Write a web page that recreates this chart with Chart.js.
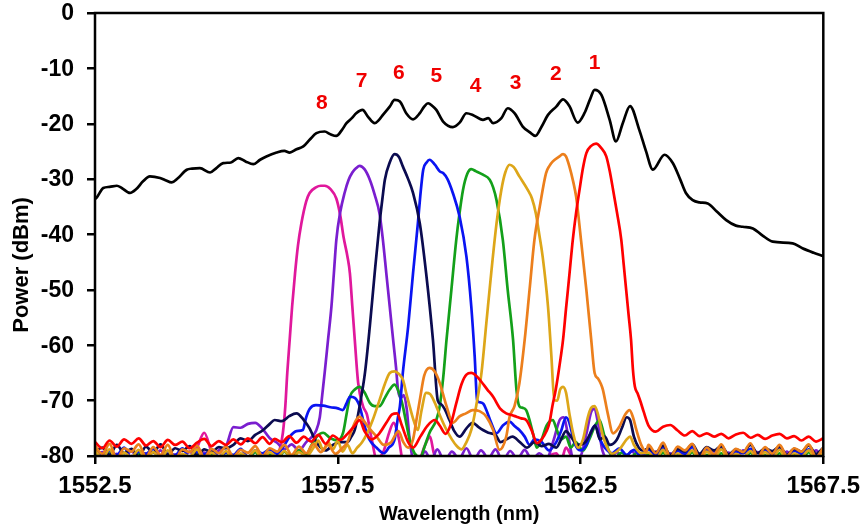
<!DOCTYPE html>
<html>
<head>
<meta charset="utf-8">
<script src="https://cdn.jsdelivr.net/npm/chart.js@4/dist/chart.umd.min.js"></script>
<style>
  html, body { margin: 0; padding: 0; background: #ffffff; }
  #wrap { width: 868px; height: 532px; }
</style>
</head>
<body>
<div id="wrap"><canvas id="c" width="868" height="532"></canvas></div>
<script>
// ---------- axis ----------
const xTicks = [1552.5, 1557.5, 1562.5, 1567.5];
const yTicks = [0, -10, -20, -30, -40, -50, -60, -70, -80];
const xTitle = 'Wavelength (nm)';
const yTitle = 'Power (dBm)';

// ---------- broadband spectrum (black) ----------
const blackX = [1552.5,1552.53,1552.67,1552.8,1552.95,1553.05,1553.22,1553.35,1553.49,1553.63,1553.84,1553.95,1554.08,1554.2,1554.39,1554.5,1554.66,1554.87,1555.0,1555.14,1555.3,1555.45,1555.6,1555.76,1555.9,1556.03,1556.24,1556.4,1556.51,1556.65,1556.79,1556.93,1557.06,1557.23,1557.35,1557.47,1557.58,1557.68,1557.8,1557.88,1558.01,1558.12,1558.26,1558.35,1558.43,1558.57,1558.67,1558.78,1558.91,1559.05,1559.19,1559.28,1559.36,1559.45,1559.53,1559.67,1559.87,1560.01,1560.15,1560.28,1560.49,1560.6,1560.7,1560.87,1561.0,1561.14,1561.31,1561.45,1561.57,1561.7,1561.83,1562.0,1562.14,1562.27,1562.44,1562.58,1562.7,1562.79,1562.93,1563.1,1563.23,1563.37,1563.52,1563.71,1563.85,1563.99,1564.23,1564.4,1564.55,1564.67,1564.81,1564.95,1565.12,1565.3,1565.5,1565.7,1565.84,1566.05,1566.25,1566.46,1566.87,1567.07,1567.3,1567.5];
const blackY = [-33.6,-33.4,-31.6,-31.4,-31.2,-31.6,-32.5,-31.8,-30.4,-29.5,-29.8,-30.2,-30.6,-29.9,-28.3,-28.1,-28.0,-28.8,-28.0,-27.1,-27.0,-26.2,-26.8,-27.3,-26.5,-25.9,-25.2,-24.9,-25.2,-24.6,-24.1,-22.8,-21.7,-21.4,-21.9,-22.2,-21.2,-19.9,-18.9,-18.1,-17.5,-18.7,-19.9,-19.3,-18.4,-16.9,-15.7,-16.0,-18.1,-19.2,-18.1,-16.9,-16.3,-16.8,-17.5,-19.6,-20.6,-19.8,-18.1,-18.4,-19.3,-19.0,-19.9,-19.0,-17.2,-18.1,-20.5,-21.5,-22.2,-20.5,-18.4,-16.9,-15.6,-16.8,-19.8,-18.1,-15.5,-13.9,-14.8,-19.3,-23.2,-19.9,-16.8,-21.1,-25.0,-28.3,-25.6,-27.1,-30.0,-32.5,-33.8,-34.2,-34.4,-35.8,-37.4,-38.4,-38.6,-38.9,-40.2,-41.3,-41.6,-42.5,-43.3,-43.9];

// ---------- shared wavelength grids for the noise floor ----------
const gridL = [1552.5,1552.65,1552.8,1552.95,1553.1,1553.25,1553.4,1553.55,1553.7,1553.85,1554.0,1554.15,1554.3,1554.45,1554.6,1554.75,1554.9,1555.05,1555.2,1555.35,1555.5,1555.65,1555.8,1555.95,1556.1];
const gridR = [1563.9,1564.05,1564.2,1564.35,1564.5,1564.65,1564.8,1564.95,1565.1,1565.25,1565.4,1565.55,1565.7,1565.85,1566.0,1566.15,1566.3,1566.45,1566.6,1566.75,1566.9,1567.05,1567.2,1567.35,1567.5];

// ---------- channel 1 (red) ----------
const ch1FloorL = [-77.5,-78.6,-77.2,-78.3,-77.0,-77.8,-76.8,-78.1,-77.3,-78.4,-77.1,-78.0,-77.4,-78.6,-77.6,-76.9,-78.2,-77.3,-78.0,-77.0,-77.9,-76.8,-77.7,-76.6,-77.8];
const ch1X = [1556.2,1556.35,1556.5,1556.65,1556.8,1556.95,1557.1,1557.25,1557.4,1557.55,1557.7,1557.85,1557.95,1558.05,1558.2,1558.35,1558.5,1558.62,1558.72,1558.82,1558.95,1559.05,1559.2,1559.35,1559.5,1559.6,1559.72,1559.82,1559.94,1560.05,1560.15,1560.25,1560.35,1560.45,1560.58,1560.7,1560.85,1560.97,1561.08,1561.18,1561.28,1561.38,1561.5,1561.6,1561.7,1561.8,1561.86,1561.92,1561.99,1562.07,1562.14,1562.2,1562.24,1562.29,1562.34,1562.41,1562.48,1562.55,1562.62,1562.72,1562.82,1562.92,1563.03,1563.1,1563.17,1563.25,1563.34,1563.39,1563.44,1563.49,1563.54,1563.58,1563.62,1563.68,1563.74,1563.8];
const ch1Y = [-76.9,-77.5,-76.4,-77.6,-76.5,-77.4,-76.2,-77.8,-76.3,-77.1,-76.0,-74.5,-73.5,-75.5,-77.0,-76.0,-74.0,-72.5,-72.3,-74.5,-77.5,-78.5,-76.5,-74.5,-73.5,-74.5,-76.0,-74.5,-70.5,-67.0,-65.3,-65.0,-65.5,-66.5,-68.0,-69.3,-71.5,-72.3,-72.6,-72.9,-73.2,-73.5,-75.5,-77.7,-77.0,-75.5,-74.0,-71.0,-68.0,-63.5,-59.0,-53.5,-50.0,-45.5,-41.0,-36.0,-31.9,-28.0,-25.3,-24.0,-23.6,-24.3,-25.9,-28.5,-31.9,-36.0,-41.0,-45.5,-50.0,-54.5,-59.0,-64.5,-67.5,-68.8,-70.3,-72.0];
const ch1FloorR = [-74.5,-75.6,-74.7,-74.4,-75.4,-76.3,-75.5,-76.4,-75.9,-76.5,-76.0,-76.8,-76.1,-75.8,-76.7,-76.2,-76.9,-76.3,-76.0,-76.8,-76.4,-77.2,-76.5,-77.4,-76.8];

// ---------- channel 2 (orange) ----------
const ch2FloorL = [-78.2,-79.6,-77.8,-80.5,-78.6,-79.2,-77.9,-80.2,-78.4,-79.8,-78.0,-80.6,-78.8,-79.3,-78.1,-80.3,-78.7,-79.5,-78.3,-80.1,-78.9,-79.4,-78.2,-80.0,-78.6];
const ch2X = [1556.25,1556.4,1556.55,1556.7,1556.85,1557.0,1557.15,1557.3,1557.45,1557.6,1557.7,1557.78,1557.88,1557.95,1558.02,1558.15,1558.3,1558.45,1558.6,1558.75,1558.85,1558.95,1559.05,1559.12,1559.19,1559.28,1559.39,1559.5,1559.6,1559.74,1559.87,1560.0,1560.14,1560.28,1560.42,1560.56,1560.7,1560.83,1560.97,1561.04,1561.14,1561.24,1561.35,1561.45,1561.55,1561.66,1561.79,1561.86,1561.93,1562.05,1562.14,1562.2,1562.27,1562.35,1562.41,1562.51,1562.62,1562.72,1562.79,1562.86,1562.92,1562.96,1563.06,1563.17,1563.3,1563.42,1563.51,1563.58,1563.65,1563.75,1563.85];
const ch2Y = [-79.2,-78.0,-79.8,-78.3,-79.5,-77.8,-79.3,-78.0,-79.6,-78.5,-77.5,-75.5,-73.5,-72.9,-73.5,-75.0,-76.5,-78.0,-77.5,-75.5,-77.5,-78.5,-77.0,-73.5,-69.9,-65.5,-64.1,-64.8,-66.8,-71.0,-74.0,-72.9,-72.3,-71.7,-71.9,-72.9,-75.3,-78.9,-76.5,-72.9,-71.0,-66.9,-59.0,-50.0,-41.0,-35.0,-28.9,-27.6,-26.8,-26.0,-25.5,-25.9,-27.7,-30.5,-33.2,-41.0,-50.0,-59.0,-65.0,-66.0,-67.0,-68.0,-72.3,-75.9,-74.7,-72.5,-71.7,-73.0,-75.3,-78.0,-79.2];
const ch2FloorR = [-78.0,-79.5,-77.6,-80.2,-78.3,-79.0,-77.8,-80.4,-78.5,-79.7,-77.9,-80.1,-78.7,-79.3,-77.7,-80.3,-78.4,-79.6,-78.0,-80.0,-78.6,-79.2,-77.9,-80.2,-78.5];

// ---------- channel 3 (gold) ----------
const ch3FloorL = [-79.0,-80.4,-78.8,-81.0,-79.4,-80.2,-78.9,-80.8,-79.3,-80.5,-79.0,-81.2,-79.6,-80.1,-78.8,-80.9,-79.4,-80.3,-79.1,-81.0,-79.5,-80.2,-79.0,-80.7,-79.3];
const ch3X = [1556.25,1556.4,1556.55,1556.7,1556.85,1557.0,1557.1,1557.2,1557.3,1557.4,1557.5,1557.6,1557.7,1557.8,1557.9,1558.0,1558.1,1558.22,1558.36,1558.47,1558.57,1558.67,1558.76,1558.84,1558.92,1558.98,1559.06,1559.15,1559.22,1559.32,1559.4,1559.5,1559.62,1559.74,1559.85,1559.95,1560.05,1560.15,1560.25,1560.35,1560.46,1560.56,1560.66,1560.77,1560.87,1560.95,1561.04,1561.12,1561.24,1561.41,1561.5,1561.58,1561.65,1561.72,1561.83,1561.9,1561.96,1562.02,1562.08,1562.14,1562.2,1562.27,1562.35,1562.45,1562.55,1562.65,1562.72,1562.79,1562.86,1562.95,1563.05,1563.15,1563.3,1563.45,1563.52,1563.6,1563.75];
const ch3Y = [-80.2,-79.1,-80.6,-79.3,-80.1,-78.5,-77.2,-79.0,-77.5,-78.8,-77.3,-79.2,-78.0,-79.5,-78.5,-77.5,-76.0,-73.5,-69.9,-67.0,-65.0,-64.7,-65.2,-66.2,-69.0,-71.0,-73.5,-75.3,-72.0,-68.6,-68.8,-70.4,-73.0,-75.3,-77.0,-78.2,-78.8,-77.5,-75.3,-71.0,-65.0,-56.0,-47.0,-38.0,-31.9,-28.8,-27.4,-27.8,-29.5,-31.9,-33.5,-36.2,-40.0,-44.0,-53.0,-62.0,-69.9,-70.0,-68.0,-67.5,-68.5,-72.3,-76.0,-78.5,-77.0,-73.0,-71.3,-71.0,-72.5,-76.0,-78.5,-79.6,-78.8,-77.0,-76.5,-78.0,-79.5];
const ch3FloorR = [-79.4,-80.6,-78.9,-81.1,-79.5,-80.3,-79.0,-80.9,-79.2,-80.5,-78.8,-81.0,-79.6,-80.2,-79.1,-80.8,-79.3,-80.4,-78.9,-81.0,-79.5,-80.1,-79.0,-80.7,-79.4];

// ---------- channel 4 (green) ----------
const ch4FloorL = [-79.8,-80.9,-79.5,-81.2,-80.0,-80.7,-79.6,-81.3,-80.1,-80.6,-79.7,-81.0,-80.2,-80.8,-79.5,-81.1,-79.9,-80.5,-79.4,-81.2,-79.8,-80.6,-79.3,-80.9,-79.7];
const ch4X = [1556.25,1556.4,1556.55,1556.7,1556.85,1556.95,1557.07,1557.2,1557.35,1557.5,1557.61,1557.68,1557.75,1557.85,1557.95,1558.05,1558.16,1558.26,1558.36,1558.47,1558.57,1558.67,1558.76,1558.84,1558.92,1558.98,1559.08,1559.2,1559.3,1559.39,1559.53,1559.6,1559.67,1559.74,1559.84,1559.94,1560.01,1560.08,1560.17,1560.25,1560.35,1560.49,1560.63,1560.7,1560.77,1560.9,1561.0,1561.11,1561.18,1561.24,1561.31,1561.38,1561.45,1561.52,1561.6,1561.7,1561.8,1561.93,1562.0,1562.1,1562.2,1562.3,1562.4,1562.55,1562.68,1562.8,1562.89,1562.98,1563.08,1563.2,1563.35,1563.5,1563.65,1563.8];
const ch4Y = [-80.5,-79.2,-80.4,-79.0,-79.8,-78.2,-76.5,-75.8,-76.8,-77.2,-75.8,-72.5,-69.3,-68.0,-67.5,-68.5,-70.4,-71.0,-71.0,-69.5,-68.0,-67.1,-68.5,-71.0,-74.5,-77.0,-79.5,-80.2,-78.0,-75.8,-73.5,-71.0,-66.0,-59.0,-50.0,-41.0,-36.0,-31.9,-29.0,-28.2,-28.6,-29.2,-30.1,-31.5,-33.8,-41.0,-50.0,-59.0,-68.0,-71.0,-71.3,-71.7,-73.5,-75.9,-78.5,-77.0,-74.5,-73.5,-75.0,-77.0,-76.5,-78.5,-77.5,-79.0,-77.0,-74.5,-73.5,-76.0,-79.0,-80.3,-79.4,-80.6,-79.5,-80.4];
const ch4FloorR = [-79.6,-80.8,-79.4,-81.0,-79.9,-80.5,-79.3,-81.2,-79.8,-80.6,-79.5,-80.9,-79.7,-81.1,-79.4,-80.7,-79.9,-80.4,-79.5,-81.0,-79.7,-80.6,-79.3,-80.8,-79.6];

// ---------- channel 5 (blue) ----------
const ch5FloorL = [-78.8,-80.2,-79.0,-79.8,-78.5,-80.5,-79.2,-79.6,-78.7,-80.3,-79.1,-79.9,-78.6,-80.4,-79.3,-79.7,-78.9,-80.1,-79.4,-79.8,-78.7,-80.2,-79.0,-79.5,-78.8];
const ch5X = [1556.25,1556.38,1556.51,1556.65,1556.78,1556.85,1556.92,1557.05,1557.2,1557.35,1557.5,1557.6,1557.68,1557.75,1557.85,1557.95,1558.05,1558.15,1558.3,1558.45,1558.55,1558.67,1558.74,1558.78,1558.84,1558.95,1559.05,1559.15,1559.2,1559.26,1559.33,1559.39,1559.5,1559.6,1559.67,1559.76,1559.87,1560.01,1560.15,1560.25,1560.32,1560.37,1560.42,1560.5,1560.56,1560.66,1560.77,1560.9,1561.04,1561.14,1561.24,1561.35,1561.45,1561.55,1561.7,1561.85,1562.0,1562.1,1562.2,1562.27,1562.37,1562.5,1562.62,1562.72,1562.8,1562.9,1563.0,1563.15,1563.3,1563.45,1563.6,1563.75];
const ch5Y = [-79.6,-78.3,-76.5,-75.5,-75.3,-73.0,-71.5,-70.8,-70.9,-71.2,-71.4,-71.7,-70.5,-69.3,-69.5,-71.0,-74.5,-77.0,-78.5,-79.5,-78.5,-77.0,-73.0,-71.0,-65.0,-56.6,-47.0,-38.0,-33.0,-28.3,-27.0,-26.5,-27.4,-28.6,-28.9,-30.0,-32.5,-36.8,-44.0,-53.0,-62.0,-69.9,-70.3,-70.6,-71.7,-74.0,-75.9,-74.5,-73.8,-74.6,-75.3,-76.5,-78.0,-77.0,-77.5,-79.0,-77.5,-75.5,-73.0,-74.0,-77.5,-79.0,-78.0,-75.5,-74.5,-77.0,-78.5,-79.5,-78.6,-79.8,-78.9,-80.1];
const ch5FloorR = [-78.8,-79.9,-78.5,-80.3,-79.1,-79.6,-78.4,-80.2,-78.9,-79.7,-78.6,-80.4,-79.2,-79.5,-78.7,-80.1,-79.0,-79.8,-78.5,-80.3,-79.1,-79.6,-78.8,-80.0,-78.9];

// ---------- channel 6 (navy) ----------
const ch6FloorL = [-79.2,-78.5,-79.8,-78.0,-79.5,-78.7,-80.1,-78.3,-79.4,-77.9,-79.7,-78.6,-79.1,-78.2,-79.9,-78.8,-79.3,-78.4,-78.6,-78.0,-76.8,-77.3,-76.2,-75.4,-74.2];
const ch6X = [1556.2,1556.35,1556.5,1556.65,1556.8,1556.92,1557.0,1557.1,1557.25,1557.4,1557.55,1557.7,1557.78,1557.85,1557.95,1558.06,1558.16,1558.26,1558.36,1558.42,1558.47,1558.57,1558.67,1558.76,1558.84,1558.95,1559.05,1559.19,1559.32,1559.46,1559.56,1559.62,1559.7,1559.8,1559.9,1560.01,1560.15,1560.28,1560.4,1560.49,1560.6,1560.75,1560.85,1560.97,1561.1,1561.25,1561.4,1561.55,1561.7,1561.85,1562.0,1562.1,1562.2,1562.3,1562.45,1562.6,1562.7,1562.8,1562.9,1563.0,1563.1,1563.25,1563.35,1563.45,1563.52,1563.6,1563.7,1563.8];
const ch6Y = [-73.5,-73.7,-72.8,-72.3,-73.5,-75.0,-76.5,-78.0,-79.0,-78.0,-77.5,-77.5,-76.5,-75.3,-71.0,-65.0,-56.6,-47.0,-38.0,-33.5,-30.1,-27.0,-25.5,-26.0,-27.7,-30.0,-32.5,-38.0,-47.0,-59.0,-70.0,-70.6,-71.5,-73.5,-75.5,-76.5,-75.0,-74.0,-74.8,-75.3,-75.8,-76.2,-77.5,-77.0,-76.5,-77.5,-78.5,-77.5,-78.2,-77.8,-78.5,-77.0,-75.5,-76.5,-78.0,-77.5,-76.0,-74.5,-77.0,-76.5,-78.0,-77.0,-75.0,-73.0,-73.5,-76.5,-78.5,-79.0];
const ch6FloorR = [-78.6,-79.4,-78.1,-79.8,-78.7,-79.2,-77.9,-79.6,-78.4,-79.0,-78.2,-79.7,-78.8,-79.3,-78.0,-79.5,-78.6,-79.1,-78.3,-79.8,-78.7,-79.2,-78.1,-79.6,-78.5];

// ---------- channel 7 (purple) ----------
const ch7FloorL = [-80.5,-79.3,-81.0,-79.6,-80.4,-79.1,-80.8,-79.5,-80.2,-79.0,-80.9,-79.7,-80.3,-79.2,-80.6,-79.4,-80.1,-79.0,-78.2,-74.8,-74.9,-74.2,-74.0,-75.1,-76.8];
const ch7X = [1556.25,1556.4,1556.55,1556.7,1556.85,1556.97,1557.05,1557.13,1557.18,1557.23,1557.3,1557.37,1557.42,1557.47,1557.55,1557.64,1557.72,1557.8,1557.88,1557.95,1558.05,1558.16,1558.26,1558.36,1558.43,1558.5,1558.57,1558.64,1558.7,1558.74,1558.8,1558.86,1558.92,1558.98,1559.05,1559.15,1559.3,1559.42,1559.55,1559.7,1559.85,1560.0,1560.15,1560.3,1560.45,1560.6,1560.75,1560.9,1561.05,1561.2,1561.35,1561.5,1561.65,1561.8,1561.95,1562.07,1562.15,1562.25,1562.35,1562.5,1562.62,1562.72,1562.78,1562.86,1562.95,1563.1,1563.25,1563.4,1563.55,1563.7,1563.8];
const ch7Y = [-77.6,-78.8,-77.9,-79.0,-77.5,-76.5,-75.5,-73.0,-69.0,-65.0,-59.0,-53.0,-47.0,-41.0,-36.0,-32.5,-30.2,-28.8,-28.0,-27.6,-28.2,-30.1,-32.8,-36.2,-41.0,-47.0,-53.0,-59.0,-64.0,-68.0,-69.5,-69.0,-71.5,-77.0,-80.5,-81.0,-79.2,-80.8,-78.8,-81.0,-79.2,-80.5,-78.6,-80.8,-79.0,-80.4,-78.8,-80.9,-79.1,-80.5,-78.9,-80.7,-79.5,-80.5,-77.0,-73.5,-73.0,-76.5,-80.5,-80.0,-76.0,-72.0,-71.5,-74.0,-79.0,-80.5,-79.3,-80.8,-79.1,-80.6,-79.4];
const ch7FloorR = [-80.7,-79.2,-81.0,-79.5,-80.4,-79.0,-80.9,-79.6,-80.2,-79.1,-80.8,-79.4,-80.5,-79.0,-80.6,-79.3,-80.9,-79.5,-80.1,-79.2,-80.7,-79.4,-80.3,-79.0,-80.6];

// ---------- channel 8 (magenta) ----------
const ch8FloorL = [-81.0,-80.2,-81.5,-80.4,-81.2,-80.0,-81.4,-80.5,-80.9,-80.1,-81.3,-80.3,-79.8,-80.6,-78.5,-75.8,-79.2,-80.8,-80.0,-81.2,-80.3,-80.9,-80.1,-81.0,-80.4];
const ch8X = [1556.2,1556.3,1556.37,1556.42,1556.46,1556.51,1556.56,1556.62,1556.68,1556.75,1556.85,1556.92,1557.05,1557.15,1557.23,1557.35,1557.47,1557.55,1557.62,1557.7,1557.75,1557.8,1557.85,1557.92,1558.02,1558.1,1558.2,1558.3,1558.45,1558.55,1558.65,1558.75,1558.85,1559.0,1559.15,1559.3,1559.4,1559.48,1559.6,1559.75,1559.9,1560.05,1560.2,1560.35,1560.5,1560.65,1560.8,1560.95,1561.1,1561.25,1561.4,1561.55,1561.7,1561.85,1562.0,1562.1,1562.2,1562.3,1562.45,1562.6,1562.75,1562.9,1563.05,1563.2,1563.35,1563.5,1563.65,1563.8];
const ch8Y = [-80.6,-79.0,-75.8,-71.0,-65.0,-59.0,-53.0,-47.0,-42.0,-38.0,-34.0,-32.5,-31.5,-31.2,-31.2,-31.8,-33.5,-36.5,-40.5,-44.0,-47.0,-53.0,-59.0,-66.8,-71.0,-72.5,-77.0,-80.5,-79.0,-76.0,-74.0,-76.5,-81.0,-80.0,-81.0,-78.0,-76.5,-79.5,-81.0,-80.2,-81.2,-80.4,-81.1,-80.2,-81.3,-80.5,-81.0,-80.1,-81.2,-80.3,-81.0,-80.4,-81.2,-80.0,-79.5,-80.8,-78.5,-79.8,-81.0,-80.2,-81.0,-80.3,-81.1,-80.2,-81.0,-80.4,-81.2,-80.5];
const ch8FloorR = [-81.0,-80.3,-81.2,-80.5,-80.9,-80.1,-81.3,-80.4,-81.0,-80.2,-81.1,-80.6,-80.8,-80.0,-81.2,-80.4,-80.9,-80.3,-81.1,-80.5,-80.8,-80.2,-81.0,-80.4,-81.1];

// ---------- channel number labels ----------
const labelText = ['1','2','3','4','5','6','7','8'];
const labelX = [1562.79,1561.99,1561.16,1560.34,1559.53,1558.76,1557.99,1557.17];
const labelY = [-9.1,-11.0,-12.7,-13.2,-11.5,-10.9,-12.4,-16.3];

// ---------- build ----------
function pts(xs, ys) { return xs.map((x, i) => ({ x: x, y: ys[i] })); }
function channel(floorL, midX, midY, floorR) {
  const first = midX[0], last = midX[midX.length - 1];
  const left = pts(gridL, floorL).filter(p => p.x < first);
  const right = pts(gridR, floorR).filter(p => p.x > last);
  return left.concat(pts(midX, midY), right);
}

const channels = [
  { d: channel(ch1FloorL, ch1X, ch1Y, ch1FloorR), c: '#FF0000', o: 1 },
  { d: channel(ch2FloorL, ch2X, ch2Y, ch2FloorR), c: '#EC7F1C', o: 2 },
  { d: channel(ch3FloorL, ch3X, ch3Y, ch3FloorR), c: '#DDA619', o: 3 },
  { d: channel(ch4FloorL, ch4X, ch4Y, ch4FloorR), c: '#13A01A', o: 6 },
  { d: channel(ch5FloorL, ch5X, ch5Y, ch5FloorR), c: '#0A14F2', o: 5 },
  { d: channel(ch6FloorL, ch6X, ch6Y, ch6FloorR), c: '#0B0B50', o: 4 },
  { d: channel(ch7FloorL, ch7X, ch7Y, ch7FloorR), c: '#7A1ECF', o: 7 },
  { d: channel(ch8FloorL, ch8X, ch8Y, ch8FloorR), c: '#E0189C', o: 8 }
];

const datasets = [{
  label: 'spectrum',
  data: pts(blackX, blackY),
  borderColor: '#000000',
  borderWidth: 2.7,
  order: 0
}].concat(channels.map((ch, i) => ({
  label: 'ch' + (i + 1),
  data: ch.d,
  borderColor: ch.c,
  borderWidth: 2.7,
  order: ch.o
})));

const FONT = '"Liberation Sans", Arial, sans-serif';

const frame = {
  id: 'frame',
  afterDatasetsDraw(chart) {
    const a = chart.chartArea, ctx = chart.ctx;
    const xs = chart.scales.x, ys = chart.scales.y;
    ctx.save();
    ctx.strokeStyle = '#000';
    ctx.lineWidth = 2.5;
    ctx.strokeRect(a.left, a.top, a.right - a.left, a.bottom - a.top);
    // channel numbers
    ctx.fillStyle = '#F00000';
    ctx.font = 'bold 21px ' + FONT;
    ctx.textAlign = 'center';
    ctx.textBaseline = 'middle';
    labelText.forEach((t, i) => {
      ctx.fillText(t, xs.getPixelForValue(labelX[i]), ys.getPixelForValue(labelY[i]));
    });
    // y tick labels
    ctx.fillStyle = '#000';
    ctx.font = 'bold 23px ' + FONT;
    ctx.textAlign = 'right';
    yTicks.forEach(v => {
      ctx.fillText(String(v), a.left - 21, ys.getPixelForValue(v) + 1);
    });
    // y axis title (rotated)
    ctx.font = 'bold 22px ' + FONT;
    ctx.textAlign = 'center';
    ctx.translate(22, ys.getPixelForValue(-45.5));
    ctx.rotate(-Math.PI / 2);
    ctx.fillText(yTitle, 0, 0);
    ctx.restore();
  }
};

const tickFont = { family: FONT, size: 24, weight: 'bold' };
const titleFont = { family: FONT, size: 20, weight: 'bold' };

new Chart(document.getElementById('c'), {
  type: 'line',
  data: { datasets: datasets },
  options: {
    responsive: false,
    animation: false,
    layout: { padding: { top: 13, right: 44, left: 0, bottom: 0 } },
    elements: {
      point: { radius: 0 },
      line: { tension: 0, cubicInterpolationMode: 'monotone', borderJoinStyle: 'round', borderCapStyle: 'round' }
    },
    plugins: { legend: { display: false }, tooltip: { enabled: false } },
    scales: {
      x: {
        type: 'linear',
        min: 1552.5, max: 1567.5,
        afterBuildTicks(s) { s.ticks = xTicks.map(v => ({ value: v })); },
        afterFit(s) { s.height = 76; },
        grid: { display: true, drawOnChartArea: false, drawTicks: true, tickLength: 8, color: '#000', lineWidth: 2.5 },
        border: { display: false },
        ticks: { color: '#000', font: tickFont, padding: 8, maxRotation: 0, callback: v => v.toFixed(1) },
        title: { display: true, text: xTitle, color: '#000', font: titleFont, padding: { top: 0, bottom: 6 } }
      },
      y: {
        type: 'linear',
        min: -80, max: 0,
        afterBuildTicks(s) { s.ticks = yTicks.map(v => ({ value: v })); },
        afterFit(s) { s.width = 95; },
        grid: { display: true, drawOnChartArea: false, drawTicks: true, tickLength: 8, color: '#000', lineWidth: 2.5 },
        border: { display: false },
        ticks: { display: false },
        title: { display: false }
      }
    }
  },
  plugins: [frame]
});
</script>
</body>
</html>
